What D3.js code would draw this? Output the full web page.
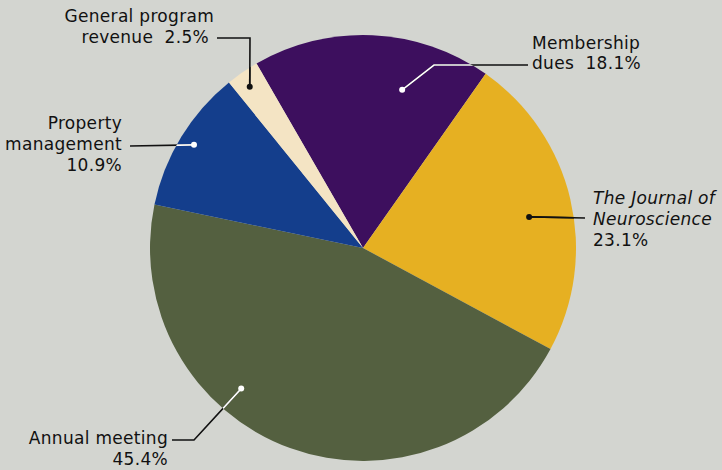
<!DOCTYPE html>
<html><head><meta charset="utf-8">
<script src="https://cdn.jsdelivr.net/npm/d3@7"></script>
<style>
html,body{margin:0;padding:0;background:#d3d5d0;}
svg{display:block;}
text{font-family:"DejaVu Sans",sans-serif;font-size:17px;fill:#111;letter-spacing:0.3px;white-space:pre;}
</style></head>
<body>
<svg id="chart" width="722" height="470"></svg>
<script>
const categories = ["Membership dues","The Journal of Neuroscience","Annual meeting","Property management","General program revenue"];
const values = [18.1, 23.1, 45.4, 10.9, 2.5];
const colors = ["#3d0f5e","#e6b022","#546040","#143e8c","#f4e4c4"];

const W = 722, H = 470, cx = 363, cy = 248, R = 213;
const svg = d3.select("#chart");
svg.append("rect").attr("width",W).attr("height",H).attr("fill","#d3d5d0");

const pie = d3.pie().sort(null).value(d=>d).startAngle(-30*Math.PI/180).endAngle(330*Math.PI/180);
const arcs = pie(values);
const arc = d3.arc().innerRadius(0).outerRadius(R);
const g = svg.append("g").attr("transform",`translate(${cx},${cy})`);
g.selectAll("path").data(arcs).join("path")
  .attr("d",arc).attr("fill",(d,i)=>colors[i]);

svg.append("clipPath").attr("id","pieclip").append("circle").attr("cx",cx).attr("cy",cy).attr("r",R);

// label layout: dot at polar (deg, r), elbow points, text lines
const labels = [
  {i:0, deg:13.9, r:163, pts:[[434,65],[528,65]], inner:"#fff",
   anchor:"start", lines:[{t:"Membership",x:532,y:48.5},{t:"dues  "+values[0]+"%",x:532,y:68.5}]},
  {i:1, deg:79.4, r:169, pts:[[585,218]], inner:"#111",
   anchor:"start", lines:[{t:"The Journal of",x:593,y:204,it:true},{t:"Neuroscience",x:593,y:224.5,it:true},{t:values[1]+"%",x:593,y:246}]},
  {i:2, deg:220.9, r:186, pts:[[194,440],[172,440]], inner:"#fff",
   anchor:"end", lines:[{t:"Annual meeting",x:168,y:444},{t:values[2]+"%",x:168,y:464.5}]},
  {i:3, deg:-58.6, r:198, pts:[[130,146]], inner:"#fff",
   anchor:"end", lines:[{t:"Property",x:122,y:128.5},{t:"management",x:122,y:149.5},{t:values[3]+"%",x:122,y:171}]},
  {i:4, deg:-35.1, r:197, pts:[[250,38],[217,38]], inner:"#111",
   anchor:"end", lines:[{t:"General program",x:214,y:21.5},{t:"revenue  "+values[4]+"%",x:209,y:43}]}
];
const line = d3.line();
labels.forEach(L=>{
  const a = L.deg*Math.PI/180;
  const p0 = [cx + L.r*Math.sin(a), cy - L.r*Math.cos(a)];
  const pts = [p0, ...L.pts];
  svg.append("path").attr("d",line(pts)).attr("fill","none").attr("stroke","#111").attr("stroke-width",1.6);
  svg.append("path").attr("d",line(pts)).attr("fill","none").attr("stroke",L.inner).attr("stroke-width",1.6).attr("clip-path","url(#pieclip)");
  svg.append("circle").attr("cx",p0[0]).attr("cy",p0[1]).attr("r",3).attr("fill",L.inner);
  L.lines.forEach(ln=>{
    svg.append("text").attr("text-anchor",L.anchor).attr("x",ln.x).attr("y",ln.y)
      .attr("font-style",ln.it?"italic":"normal").text(ln.t);
  });
});
</script>
</body></html>
